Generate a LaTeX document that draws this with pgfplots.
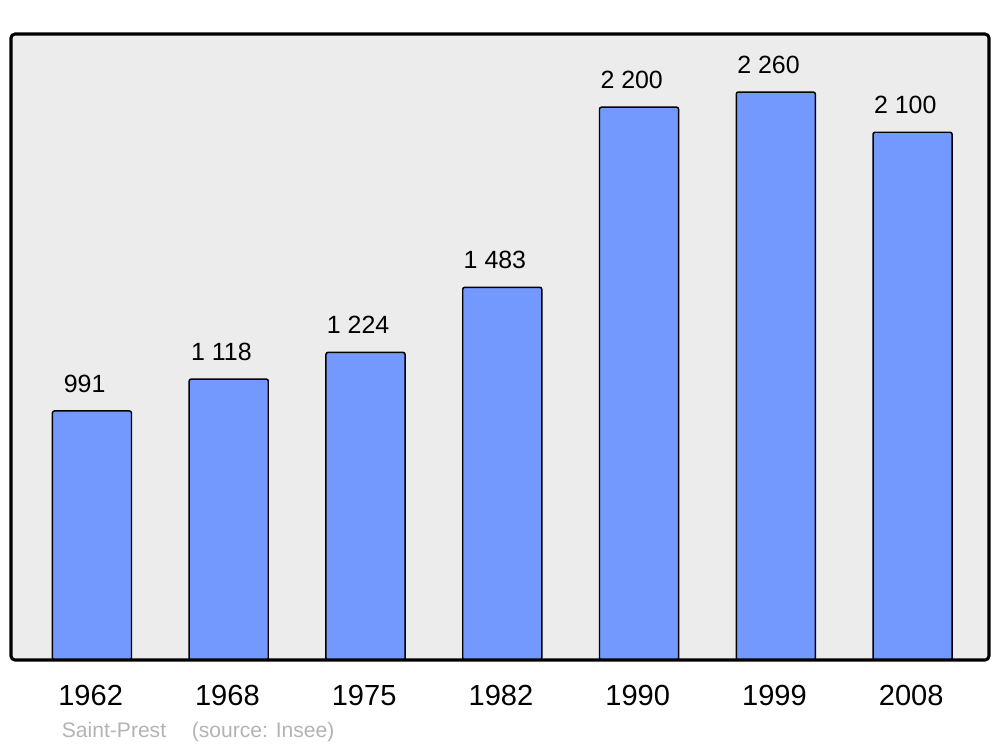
\documentclass[border=0pt]{standalone}
\usepackage{pgfplots}
\pgfplotsset{compat=1.18}
\usepackage{fontspec}
\setmainfont{Liberation Sans}
\definecolor{barblue}{RGB}{115,153,255}
\definecolor{bgray}{RGB}{236,236,236}
\definecolor{srcgray}{RGB}{179,179,179}
\begin{document}
\begin{tikzpicture}
\begin{axis}[
  name=ax,
  scale only axis,
  width=733.5pt, height=469.5pt,
  xmin=-0.592, xmax=6.559,
  ymin=0, ymax=2491,
  enlargelimits=false,
  axis background/.style={fill=bgray},
  axis line style={draw=none},
  ytick=\empty,
  xtick={0,1,2,3,4,5,6},
  xticklabels={1962,1968,1975,1982,1990,1999,2008},
  major tick length=0pt,
  xticklabel style={font=\fontsize{21.8}{24}\selectfont, anchor=base, yshift=-34pt, xshift=-1pt},
  ybar, bar width=0.578, bar shift=0pt,
  nodes near coords,
  /pgf/number format/assume math mode=true,
  /pgf/number format/1000 sep={\ },
  every node near coord/.append style={font=\fontsize{18.7}{22}\selectfont, anchor=base, inner sep=0pt, yshift=14pt, xshift=-5.5pt, text=black},
  clip=false,
]
\addplot[draw=black, line width=1.1pt, fill=barblue, rounded corners=1.5pt]
  coordinates {(0,991) (1,1118) (2,1224) (3,1483) (4,2200) (5,2260) (6,2100)};
\end{axis}
\draw[line width=2.3pt, rounded corners=3pt] (ax.south west) rectangle (ax.north east);
\node[anchor=base west, inner sep=0pt, text=srcgray, font=\fontsize{15.8}{18}\selectfont] at ([shift={(38pt,-57.75pt)}]ax.south west) {Saint-Prest};
\node[anchor=base west, inner sep=0pt, text=srcgray, font=\fontsize{15.8}{18}\selectfont] at ([shift={(135.5pt,-57.75pt)}]ax.south west) {(source: Insee)};
\path ([shift={(-8.25pt,-65.25pt)}]ax.south west) rectangle ([shift={(8.25pt,25.5pt)}]ax.north east);
\end{tikzpicture}
\end{document}
